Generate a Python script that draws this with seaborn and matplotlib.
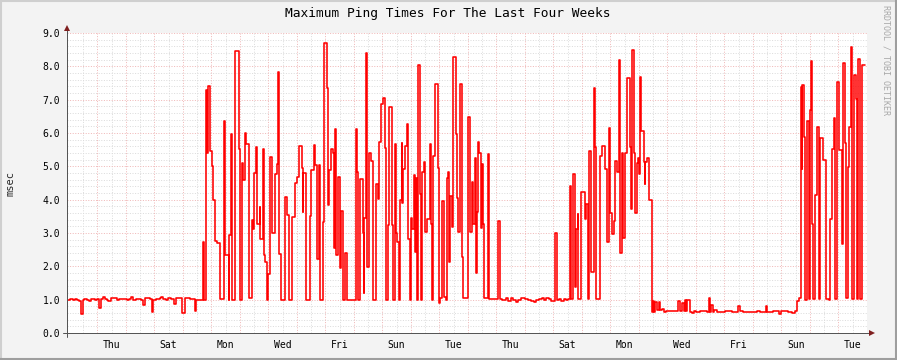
import numpy as np
import pandas as pd
import matplotlib
matplotlib.use("Agg")
import matplotlib.pyplot as plt
from matplotlib.lines import Line2D
import seaborn as sns

# ---------------- data (hours since start of the 4-week window, step values in msec) -------------
week1_hours = [0, 2.5, 4.8, 6.7, 8.7, 10.1, 11.8, 13.2, 14.3, 17.1, 18.8, 20.4, 23.5, 25.5, 27.2, 28.6,
               30.5, 31.9, 33.3, 34.7, 37.0, 42.3, 44.0, 50.1, 52.4, 54.3, 55.7, 57.7, 59.9, 62.7, 64.1,
               65.8, 67.5, 69.7, 71.4, 72.8, 75.3, 78.1, 79.5, 80.9, 83.2, 85.1, 87.9, 90.2, 91.6, 94.4,
               97.2, 99.7, 101.9, 103.9, 106.1, 107.5, 108.9, 114.5, 115.6, 116.7, 118.1, 118.7, 120.7,
               121.8, 123.2, 124.6, 126.3, 128.8, 132.1, 133.0, 136.1, 136.6, 137.7, 138.9, 141.7, 144.5,
               145.3, 147.0, 147.8, 150.1, 150.9, 153.1, 155.9, 156.8, 157.6, 159.0, 159.9, 162.1, 162.9,
               164.9, 165.7, 166.9]
week1_msec = [1.00, 1.02, 1.00, 1.02, 1.00, 0.97, 0.57, 1.00, 1.02, 1.00, 0.95, 1.02, 1.00, 1.02, 0.76,
              1.03, 1.07, 1.03, 0.98, 0.96, 1.04, 0.98, 1.03, 0.98, 1.02, 1.07, 0.98, 1.02, 1.03, 1.00,
              0.84, 1.05, 1.04, 1.02, 0.64, 0.98, 1.02, 1.05, 1.07, 1.02, 0.98, 1.04, 1.02, 0.86, 1.04,
              1.06, 0.61, 1.04, 1.06, 1.02, 1.03, 0.66, 1.00, 2.72, 1.00, 7.29, 5.39, 7.42, 5.47, 5.00,
              4.00, 2.75, 2.69, 1.02, 6.35, 2.33, 1.00, 2.93, 5.97, 1.00, 8.45, 5.51, 1.00, 5.09, 4.59,
              5.99, 5.66, 1.05, 3.39, 3.13, 4.79, 5.58, 3.27, 3.79, 2.81, 5.51, 2.33, 2.13]

week2_hours = [168.0, 169.4, 170.8, 173.0, 175.0, 176.7, 177.5, 178.3, 180.3, 183.7,
               184.8, 186.5, 189.8, 192.3, 193.5, 195.7, 197.7, 198.8, 199.1, 201.0,
               204.7, 205.8, 207.7, 208.6, 210.3, 211.9, 213.3, 215.3, 216.7, 218.7,
               219.8, 220.9, 222.6, 223.7, 224.8, 225.7, 226.8, 228.2, 229.9, 230.7,
               232.1, 234.3, 236.0, 243.3, 244.1, 245.3, 246.7, 248.9, 249.7, 250.3,
               251.7, 252.8, 254.5, 255.9, 257.6, 260.1, 261.5, 262.9, 264.6, 266.3,
               267.7, 268.5, 269.9, 271.3, 273.3, 274.1, 276.1, 276.9, 277.5, 279.4,
               280.0, 281.7, 282.2, 282.8, 284.7, 285.9, 286.7, 288.7, 289.5, 290.6,
               292.0, 292.9, 293.7, 294.5, 295.1, 297.1, 298.2, 298.7, 300.4, 301.0,
               301.5, 302.9, 305.5, 306.3, 307.4, 308.3, 309.7, 312.2, 313.0, 314.1,
               315.3, 316.1, 317.8, 318.9, 319.7, 321.1, 322.0, 322.5, 323.9, 325.1,
               327.3, 328.4, 329.5, 330.7, 332.9, 333.5]
week2_msec = [1.00, 1.77, 5.29, 3.00, 4.77, 5.07, 7.82, 2.37, 1.00, 4.07,
              3.53, 1.00, 3.49, 4.49, 4.69, 5.62, 4.94, 3.64, 4.81, 1.00,
              3.52, 4.90, 5.63, 5.04, 2.21, 5.04, 1.00, 3.34, 8.69, 7.36,
              3.84, 4.89, 5.53, 5.39, 2.54, 6.11, 2.34, 4.69, 1.94, 3.67,
              1.00, 2.41, 1.00, 6.11, 4.84, 1.00, 4.61, 2.99, 1.19, 3.44,
              8.39, 1.99, 5.39, 5.16, 1.00, 4.47, 4.01, 5.72, 6.86, 7.04,
              5.54, 1.00, 3.24, 6.77, 3.24, 1.00, 5.67, 2.99, 2.74, 1.00,
              3.99, 5.69, 3.91, 4.91, 5.61, 6.27, 2.81, 1.00, 3.44, 3.11,
              4.73, 2.42, 4.65, 1.00, 8.03, 4.17, 1.00, 4.82, 5.14, 4.24,
              3.04, 3.41, 5.67, 3.27, 1.00, 5.31, 7.46, 4.94, 0.89, 1.04,
              1.76, 3.96, 1.09, 1.00, 4.64, 4.84, 2.14, 4.11, 3.19, 8.27,
              5.96, 4.04, 3.02, 7.46, 2.27, 1.04]

week3_hours = [337.4, 339.1, 340.7, 342.1, 343.3, 344.7, 345.2, 346.1, 347.2, 348.3,
               349.4, 350.5, 351.4, 354.2, 354.7, 355.6, 363.1, 364.3, 366.5, 369.3,
               371.5, 373.5, 375.5, 377.7, 379.9, 381.9, 385.5, 388.3, 390.3, 393.1,
               395.1, 397.3, 399.5, 401.5, 403.5, 405.7, 407.7, 410.7, 412.1, 414.1,
               416.1, 418.3, 420.3, 422.0, 423.3, 424.5, 425.9, 427.3, 428.7, 429.8,
               430.3, 433.1, 435.7, 437.1, 438.5, 439.3, 441.3, 443.8, 444.6, 445.7,
               448.3, 450.5, 452.7, 454.7, 456.1, 456.9, 458.9, 460.3, 461.7, 463.1,
               464.5, 465.3, 465.9, 467.3, 468.1, 469.5, 471.5, 473.7, 474.6, 475.7,
               477.7, 478.5, 479.9, 480.7, 481.9, 482.7, 483.5, 485.5, 486.3, 486.9,
               488.3, 489.7, 492.5, 493.1, 493.9, 495.3, 496.7, 498.1, 499.5, 500.9,
               502.3]
week3_msec = [6.49, 3.02, 4.52, 3.26, 5.24, 1.79, 3.64, 5.74, 5.39, 3.14,
              5.06, 3.27, 1.04, 3.41, 5.37, 1.02, 3.36, 1.02, 0.98, 1.04,
              0.97, 1.05, 1.00, 0.93, 0.98, 1.05, 1.01, 0.98, 0.97, 0.92,
              0.99, 1.01, 1.04, 0.98, 1.04, 1.01, 0.96, 2.99, 0.99, 1.03,
              0.97, 1.03, 0.99, 1.03, 4.41, 1.01, 4.77, 1.37, 3.12, 3.56,
              1.02, 4.22, 3.42, 3.86, 1.02, 5.46, 1.82, 7.34, 5.57, 1.02,
              5.32, 5.61, 4.91, 2.72, 6.14, 3.59, 2.96, 3.36, 5.16, 4.84,
              8.19, 2.86, 2.39, 5.41, 2.84, 5.41, 7.64, 5.57, 3.72, 8.49,
              5.41, 3.59, 5.09, 5.26, 4.77, 7.69, 6.06, 5.12, 4.46, 5.14,
              5.26, 3.99, 0.64, 0.96, 0.64, 0.92, 0.70, 0.92, 0.70, 0.72,
              0.64]

week4_hours = [504.3, 514.3, 516.3, 517.7, 519.1, 520.0, 521.1, 522.2, 524.1, 526.1,
               527.5, 529.5, 533.1, 538.7, 540.1, 541.2, 542.3, 543.7, 545.1, 547.1,
               554.1, 559.7, 564.7, 566.7, 569.5, 575.1, 580.7, 583.5, 588.3, 589.4,
               594.7, 599.5, 601.1, 607.3, 610.1, 612.9, 614.9, 616.3, 617.7, 618.5,
               619.1, 620.7, 621.6, 622.7, 624.7, 625.2, 626.3, 627.2, 628.0, 629.7,
               631.1, 633.1, 634.2, 636.1, 638.9, 641.5, 642.6, 643.7, 645.4, 646.5,
               648.2, 649.9, 652.1, 653.2, 654.9, 655.7, 657.1, 658.3, 659.9, 660.8,
               661.1, 662.7, 664.1, 665.0, 666.1, 667.5, 668.9, 669.7, 672.0]
week4_msec = [0.66, 0.96, 0.66, 0.90, 0.66, 0.98, 0.66, 0.99, 0.63, 0.60,
              0.66, 0.62, 0.66, 0.63, 1.05, 0.63, 0.84, 0.63, 0.68, 0.63,
              0.65, 0.62, 0.81, 0.67, 0.63, 0.62, 0.65, 0.62, 0.82, 0.63,
              0.66, 0.56, 0.65, 0.63, 0.61, 0.66, 0.97, 1.04, 7.39, 4.92,
              7.44, 5.87, 0.98, 6.36, 1.01, 6.69, 8.16, 3.27, 1.02, 4.14,
              6.19, 1.02, 5.84, 5.19, 1.02, 0.98, 3.42, 5.51, 6.44, 1.02,
              7.52, 5.48, 2.66, 8.09, 5.69, 1.06, 4.97, 6.17, 8.59, 5.52,
              1.02, 7.74, 7.01, 1.02, 8.22, 1.02, 7.82, 8.04, 8.04]

day_labels = ["Thu", "Sat", "Mon", "Wed", "Fri", "Sun", "Tue",
              "Thu", "Sat", "Mon", "Wed", "Fri", "Sun", "Tue"]
first_label_hour = 37.5      # noon of the first labelled day
first_midnight_hour = 25.5
y_ticks = [0, 1, 2, 3, 4, 5, 6, 7, 8, 9]

df = pd.DataFrame({
    "hours": week1_hours + week2_hours + week3_hours + week4_hours,
    "msec": week1_msec + week2_msec + week3_msec + week4_msec,
})

# ---------------- style ----------------
sns.set_style("white")
plt.rcParams["font.family"] = ["DejaVu Sans Mono", "DejaVu Sans"]

W, H = 897, 360
BG = "#f3f3f3"
fig = plt.figure(figsize=(W / 100, H / 100), dpi=100, facecolor=BG)
L, R, T, B = 67, 867, 33, 333
ax = fig.add_axes([L / W, 1 - B / H, (R - L) / W, (B - T) / H])
ax.set_facecolor("white")
ax.set_xlim(0, 672)
ax.set_ylim(0, 9)

minor_c = "#dcdcdc"
major_c = "#f0b8b8"
dot = (0, (1, 1.6))
px = 0.72

# grid: vertical
for k in range(28):
    ax.axvline(first_midnight_hour - 12 + 24 * k, color=minor_c, lw=px, ls=dot, zorder=1)
for k in range(27):
    ax.axvline(first_midnight_hour + 24 * k, color=major_c, lw=px, ls=dot, zorder=1.2)
# grid: horizontal
for yv in np.arange(0.2, 9.0, 0.2):
    if abs(yv - round(yv)) > 1e-6:
        ax.axhline(yv, color=minor_c, lw=px, ls=dot, zorder=1)
for yv in y_ticks[1:]:
    ax.axhline(yv, color=major_c, lw=px, ls=dot, zorder=1.2)

sns.lineplot(data=df, x="hours", y="msec", drawstyle="steps-post", color="#ff0000",
             linewidth=1.15, estimator=None, sort=False, ax=ax, zorder=3)

ax.set_xlabel("")
ax.set_ylabel("")
for s in ax.spines.values():
    s.set_visible(False)

# ticks & labels
label_pos = [first_label_hour + 48 * i for i in range(len(day_labels))]
ax.set_xticks(label_pos)
ax.set_xticklabels(day_labels)
ax.set_yticks(y_ticks)
ax.set_yticklabels([f"{v:.1f}" for v in y_ticks])
ax.tick_params(axis="both", which="major", length=0, labelsize=7, colors="#000000")
ax.tick_params(axis="x", pad=5)
ax.tick_params(axis="y", pad=5)

# small axis tick marks
ax.set_xticks([first_midnight_hour - 12 + 12 * k for k in range(56)], minor=True)
ax.set_yticks(np.arange(0, 9.01, 0.2), minor=True)
ax.xaxis.remove_overlapping_locs = False
ax.yaxis.remove_overlapping_locs = False
ax.tick_params(axis="both", which="minor", length=2, width=0.7, direction="inout", color="#707070")

# axes with arrows
axis_c = "#555555"
ax.plot([-4 / 800, 1 + 4 / 800], [0, 0], transform=ax.transAxes, color=axis_c, lw=px,
        clip_on=False, zorder=4)
ax.plot([0, 0], [-4 / 300, 1 + 4 / 300], transform=ax.transAxes, color=axis_c, lw=px,
        clip_on=False, zorder=4)
ax.plot([1 + 5 / 800], [0], marker=">", ms=4.5, color="#7f1f1f", transform=ax.transAxes,
        clip_on=False, zorder=5, mew=0)
ax.plot([0], [1 + 5 / 300], marker="^", ms=4.5, color="#7f1f1f", transform=ax.transAxes,
        clip_on=False, zorder=5, mew=0)

# texts
fig.text(448 / W, 1 - 14 / H, "Maximum Ping Times For The Last Four Weeks", ha="center",
         va="center", fontsize=9.3, color="#000000")
fig.text(11 / W, 1 - 183 / H, "msec", rotation=90, ha="center", va="center", fontsize=7.5)
fig.text(886 / W, 1 - 5 / H, "RRDTOOL / TOBI OETIKER", rotation=-90, ha="center", va="top",
         fontsize=6, color="#a8a8a8")

# 3D-ish border
fig.add_artist(Line2D([0, 1], [1 - 1 / H, 1 - 1 / H], transform=fig.transFigure, color="#cfcfcf", lw=1.5))
fig.add_artist(Line2D([1 / W, 1 / W], [0, 1], transform=fig.transFigure, color="#cfcfcf", lw=1.5))
fig.add_artist(Line2D([0, 1], [1 / H, 1 / H], transform=fig.transFigure, color="#9e9e9e", lw=1.5))
fig.add_artist(Line2D([1 - 1 / W, 1 - 1 / W], [0, 1], transform=fig.transFigure, color="#9e9e9e", lw=1.5))

fig.savefig("out.png", dpi=100, facecolor=BG)
